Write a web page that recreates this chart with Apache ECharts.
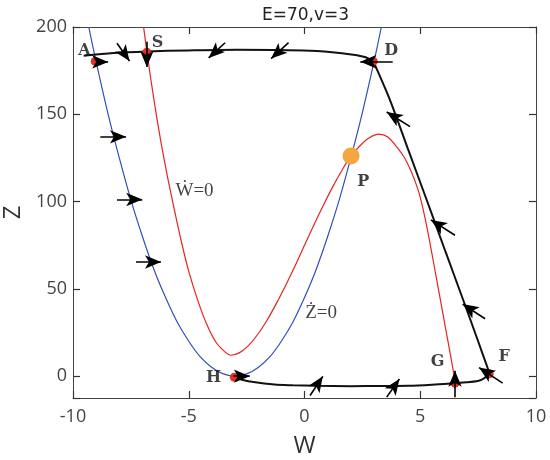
<html>
<head>
<meta charset="utf-8">
<script src="https://cdn.jsdelivr.net/npm/echarts@6/dist/echarts.min.js"></script>
</head>
<body style="margin:0">
<div id="main" style="width:550px;height:460px"></div>
<script>
// W-dot = 0 nullcline (red)
var wNullcline = [[-6.95,200],[-6.8,185],[-6.5,158],[-6.2,134],[-5.9,113],[-5.6,94],[-5.3,76],[-5.0,60],
  [-4.6,43],[-4.2,29],[-3.8,19],[-3.4,13.5],[-3.2,12],[-2.8,13.5],[-2.4,17.8],[-2.0,24.3],[-1.6,32.5],
  [-1.2,42],[-0.8,52.4],[-0.4,63.4],[0,75],[0.4,86.5],[0.8,97.5],[1.2,108],[1.6,117.5],[2.0,126],
  [2.4,132],[2.8,136.5],[3.2,138.6],[3.6,137],[4.0,131],[4.3,125.5],[4.6,117.5],[4.9,107],[5.1,97],
  [5.3,84.5],[5.5,70.5],[5.7,56],[5.9,41.5],[6.1,27],[6.3,12.5],[6.47,0]];
// Z-dot = 0 nullcline (blue)
var zNullcline = [[-9.32,200],[-9,180],[-8.5,151],[-8,125],[-7.5,101],[-7,80],[-6.5,61],[-6,45],[-5.5,31],
  [-5,20],[-4.5,11],[-4,5],[-3.5,1.3],[-3,0],[-2.5,1.3],[-2,5],[-1.5,11],[-1,20],[-0.5,31],[0,45],[0.5,61],
  [1,80],[1.5,101],[2,125],[2.5,151],[3,180],[3.32,200]];
// trajectory pieces
var topPath = [[-9.54,183.5],[-8.25,185.1],[-6.81,186],[-5,186.6],[-2.92,187],[-0.05,186.6],[1.2,185.6],[2.11,184.1],[2.6,182.8],[2.97,180.5]];
var rightPath = [[2.97,180.5],[3.69,158.3],[4.5,129],[5.28,100.9],[6.1,71],[6.86,43.5],[7.5,20],[8.0,1.4]];
var bottomPath = [[8.0,1.4],[7.6,-2.3],[7.0,-3.5],[6.5,-4.0],[5.5,-4.9],[4.5,-5.5],[3.3,-5.6],[2,-5.7],[0.5,-5.5],
  [-0.5,-5.2],[-1.3,-4.8],[-2.2,-3.4],[-2.7,-2],[-3.03,-0.6]];
// red points
var points = [[-9.04,180.3],[-6.81,185.6],[2.97,180.3],[7.98,1.4],[6.5,-4.0],[-3.03,-0.6]];
var pointP = [[2.01,126.1]];
// arrows: tail W, tail Z, head W, head Z
var arrows = [
  [-8.96,180.0,-8.48,180.0],[-8.10,190.7,-7.56,180.5],[-6.81,191.6,-6.81,177.1],[-3.43,191.0,-4.14,182.3],
  [-0.69,191.0,-1.44,181.9],[3.81,180.1,2.41,180.1],[4.56,142.9,3.55,151.3],[6.50,80.7,5.46,89.5],
  [7.80,32.9,6.83,41.3],[8.56,-4.0,7.54,4.9],[6.50,-12.0,6.50,3.1],[3.55,-12.0,4.10,-1.6],
  [0.24,-11.1,0.79,-0.1],[-3.07,0,-2.36,0],[-8.82,137.1,-7.71,137.1],[-8.10,101.2,-7.01,101.2],
  [-7.28,65.4,-6.20,65.4]
];
var pointLabels = [['A',-9.51,186.6],['S',-6.35,190.8],['D',3.74,186.6],['P',2.54,111.4],
  ['F',8.63,11.3],['G',5.75,8.0],['H',-3.93,-0.9]];
var curveLabels = [['Ẇ=0',-4.75,106],['Ż=0',0.72,36]];

var chart = echarts.init(document.getElementById('main'));
var font = 'Open Sans';
// split lines kept "on" but invisible, so the inside ticks still draw
var hiddenSplit = {show: true, lineStyle: {color: 'rgba(0,0,0,0)', opacity: 0}};

chart.setOption({
  animation: false,
  title: {
    text: 'E=70,v=3',
    left: 257, top: 2,
    textStyle: {fontSize: 17, fontWeight: 'normal', color: '#222', fontFamily: 'DejaVu Sans'}
  },
  grid: {left: 73, right: 14, top: 27, bottom: 62, containLabel: false, outerBoundsMode: 'none'},
  xAxis: [
    {type: 'value', min: -10, max: 10, interval: 5, position: 'bottom',
      name: 'W', nameLocation: 'middle', nameGap: 36,
      nameTextStyle: {fontSize: 24, color: '#333', fontFamily: font},
      axisLine: {show: true, onZero: false, lineStyle: {color: '#444'}},
      axisTick: {show: true, inside: true, length: 7, lineStyle: {color: '#333', width: 1.2}},
      axisLabel: {show: true, fontSize: 18, color: '#444', margin: 10, fontFamily: font},
      splitLine: hiddenSplit},
    {type: 'value', min: -10, max: 10, interval: 5, position: 'top',
      axisLine: {show: true, onZero: false, lineStyle: {color: '#444'}},
      axisTick: {show: true, inside: true, length: 7, lineStyle: {color: '#333', width: 1.2}},
      axisLabel: {show: false},
      splitLine: hiddenSplit}
  ],
  yAxis: [
    {type: 'value', min: -12.5, max: 200, position: 'left',
      name: 'Z', nameLocation: 'middle', nameGap: 48,
      nameTextStyle: {fontSize: 24, color: '#333', fontFamily: font},
      axisLine: {show: true, onZero: false, lineStyle: {color: '#444'}},
      axisTick: {show: true, inside: true, length: 7, lineStyle: {color: '#333', width: 1.2}},
      axisLabel: {show: true, fontSize: 18, color: '#444', margin: 6, fontFamily: font,
        formatter: function (v) { return v % 50 === 0 ? v : ''; }},
      splitLine: hiddenSplit},
    {type: 'value', min: -12.5, max: 200, position: 'right',
      axisLine: {show: true, onZero: false, lineStyle: {color: '#444'}},
      axisTick: {show: true, inside: true, length: 7, lineStyle: {color: '#333', width: 1.2}},
      axisLabel: {show: false},
      splitLine: hiddenSplit}
  ],
  series: [
    {type: 'line', data: zNullcline, smooth: 0.3, symbol: 'none',
      lineStyle: {color: '#3350b5', width: 1.2}},
    {type: 'line', data: wNullcline, smooth: 0.3, symbol: 'none',
      lineStyle: {color: '#e5241e', width: 1.2}},
    {type: 'line', data: topPath, smooth: 0.3, symbol: 'none',
      lineStyle: {color: '#111', width: 2}},
    {type: 'line', data: rightPath, smooth: 0.3, symbol: 'none',
      lineStyle: {color: '#111', width: 2}},
    {type: 'line', data: bottomPath, smooth: 0.3, symbol: 'none',
      lineStyle: {color: '#111', width: 2}},
    {type: 'scatter', data: points, symbolSize: 9, z: 4,
      itemStyle: {color: '#e5301f', opacity: 1}},
    {type: 'lines', coordinateSystem: 'cartesian2d', z: 5,
      symbol: ['none', 'arrow'], symbolSize: [0, [10, 16]],
      lineStyle: {color: '#000', width: 1.6, opacity: 1},
      data: arrows.map(function (a) { return {coords: [[a[0], a[1]], [a[2], a[3]]]}; })},
    {type: 'scatter', data: pointP, symbolSize: 17, z: 4,
      itemStyle: {color: '#f4a640', opacity: 1}},
    {type: 'scatter', symbolSize: 0, z: 6,
      data: pointLabels.map(function (p) { return {name: p[0], value: [p[1], p[2]]}; }),
      label: {show: true, position: 'inside', formatter: '{b}', color: '#111',
        fontFamily: 'DejaVu Serif', fontWeight: 'bold', fontSize: 16}},
    {type: 'scatter', symbolSize: 0, z: 6,
      data: curveLabels.map(function (p) { return {name: p[0], value: [p[1], p[2]]}; }),
      label: {show: true, position: 'inside', formatter: '{b}', color: '#111',
        fontFamily: 'Liberation Serif', fontSize: 19}}
  ]
});
</script>
</body>
</html>
